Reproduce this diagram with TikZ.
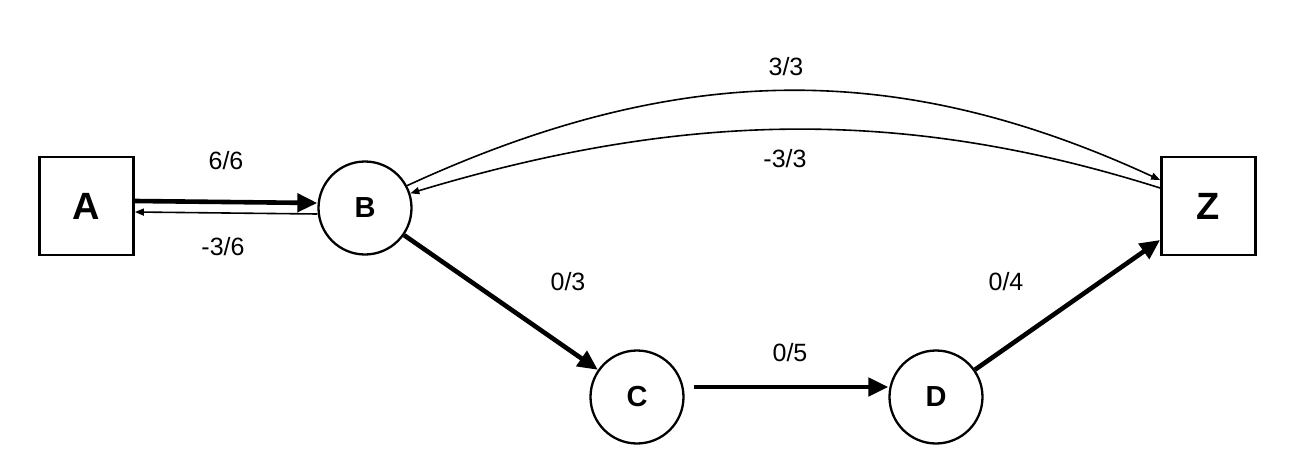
\documentclass[tikz,border=0pt]{standalone}
\usepackage{fontspec}
\setmainfont{Liberation Sans}
\usetikzlibrary{arrows.meta}

\begin{document}
\begin{tikzpicture}[x=0.5pt, y=-0.5pt]
        % Style definitions
        \tikzset{
            terminal/.style={draw, line width=1.4pt, minimum width=47pt, minimum height=49pt, inner sep=0pt, font=\fontsize{19}{19}\selectfont\bfseries},
            vertex/.style={draw, circle, line width=1.15pt, minimum size=46.5pt, inner sep=0pt, font=\fontsize{14.5}{14.5}\selectfont\bfseries},
            flowedge/.style={line width=2.3pt, -{Triangle[length=10pt, width=9pt]}},
            thinedge/.style={line width=0.8pt, -{Triangle[length=4.5pt, width=3.5pt]}},
            caplabel/.style={font=\fontsize{12.5}{14}\selectfont}
        }
        \useasboundingbox (0,0) rectangle (1312,466);

        % ==========================================
        % NODES
        % ==========================================
        \node[terminal] (A) at (86.5,206) {A};
        \node[vertex] (B) at (365,208) {B};
        \node[vertex] (C) at (637,397) {C};
        \node[vertex] (D) at (936,397) {D};
        \node[terminal] (Z) at (1208.5,206) {Z};

        % ==========================================
        % EDGES (thick: flow, thin: residual)
        % ==========================================
        \draw[flowedge] ([yshift=2.5pt]A.east) -- ([yshift=2.5pt]B.west);
        \draw[thinedge] ([yshift=-3pt]B.west) -- ([yshift=-3pt]A.east);
        \draw[flowedge] (B) -- (C);
        \draw[flowedge, shorten <=4.5pt] ([yshift=5pt]C.east) -- ([yshift=5pt]D.west);
        \draw[flowedge] (D) -- ([yshift=-17pt]Z.west);

        % Upper arcs between B and Z
        \draw[thinedge] (B.28) .. controls (680,60) and (900,60) .. ([yshift=13pt]Z.west);
        \draw[thinedge] ([yshift=9pt]Z.west) .. controls (910,109) and (690,109) .. (B.18);

        % ==========================================
        % CAPACITY LABELS
        % ==========================================
        \node[caplabel] (lAB) at (226,161) {6/6};
        \node[caplabel] (lBA) at (223,247) {-3/6};
        \node[caplabel] (lBC) at (568,282) {0/3};
        \node[caplabel] (lCD) at (790,353) {0/5};
        \node[caplabel] (lDZ) at (1006,282) {0/4};
        \node[caplabel] (lBZ) at (786,67) {3/3};
        \node[caplabel] (lZB) at (785,159) {-3/3};
\end{tikzpicture}
\end{document}
